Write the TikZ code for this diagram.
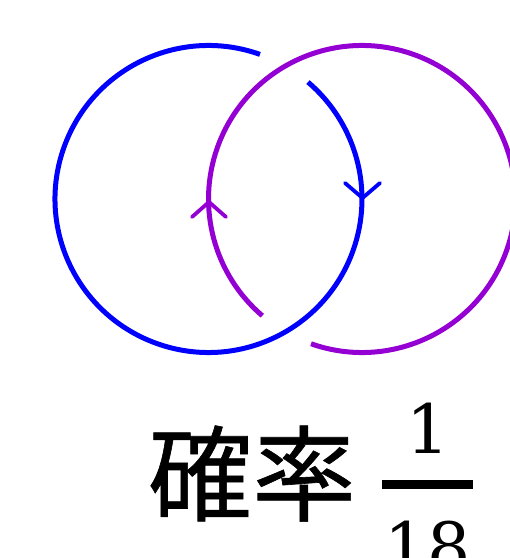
\documentclass[tikz,border=0pt]{standalone}
\usepackage{fontspec}
\newfontfamily\cjk[FakeBold=0.6]{Noto Sans CJK JP}
\newfontfamily\numfont{DejaVu Serif}
\definecolor{kblue}{RGB}{0,0,255}
\definecolor{kpurple}{RGB}{148,0,211}
\begin{document}
\begin{tikzpicture}[x=1pt,y=1pt,
  knot/.style={line width=5pt},
  chev/.style={line width=3.8pt, line cap=round},
  cjktext/.style={inner sep=0pt, font=\cjk\fontsize{104}{110}\selectfont},
  numtext/.style={inner sep=0pt, font=\numfont\fontsize{68}{72}\selectfont}]
\useasboundingbox (0,0) rectangle (510,558);
\coordinate (cb) at (208.5,359);
\coordinate (cp) at (362,359);
\draw[knot,kblue] (cb) ++(70.4:153.5) arc[start angle=70.4, end angle=409.6, radius=153.5];
\draw[knot,kpurple] (cp) ++(250.6:153.5) arc[start angle=250.6, end angle=589.5, radius=153.5];
\draw[chev,kblue] (345,375) -- (362.5,360) -- (380,375);
\draw[chev,kpurple] (192,341) -- (209,356) -- (226,341);
\node[cjktext, anchor=base west] (label) at (148,45) {確率};
\node[numtext, anchor=base] (num) at (428,104) {1};
\node[numtext, anchor=base] (den) at (428,-13) {18};
\fill (382,69) rectangle (473,78);
\end{tikzpicture}
\end{document}
